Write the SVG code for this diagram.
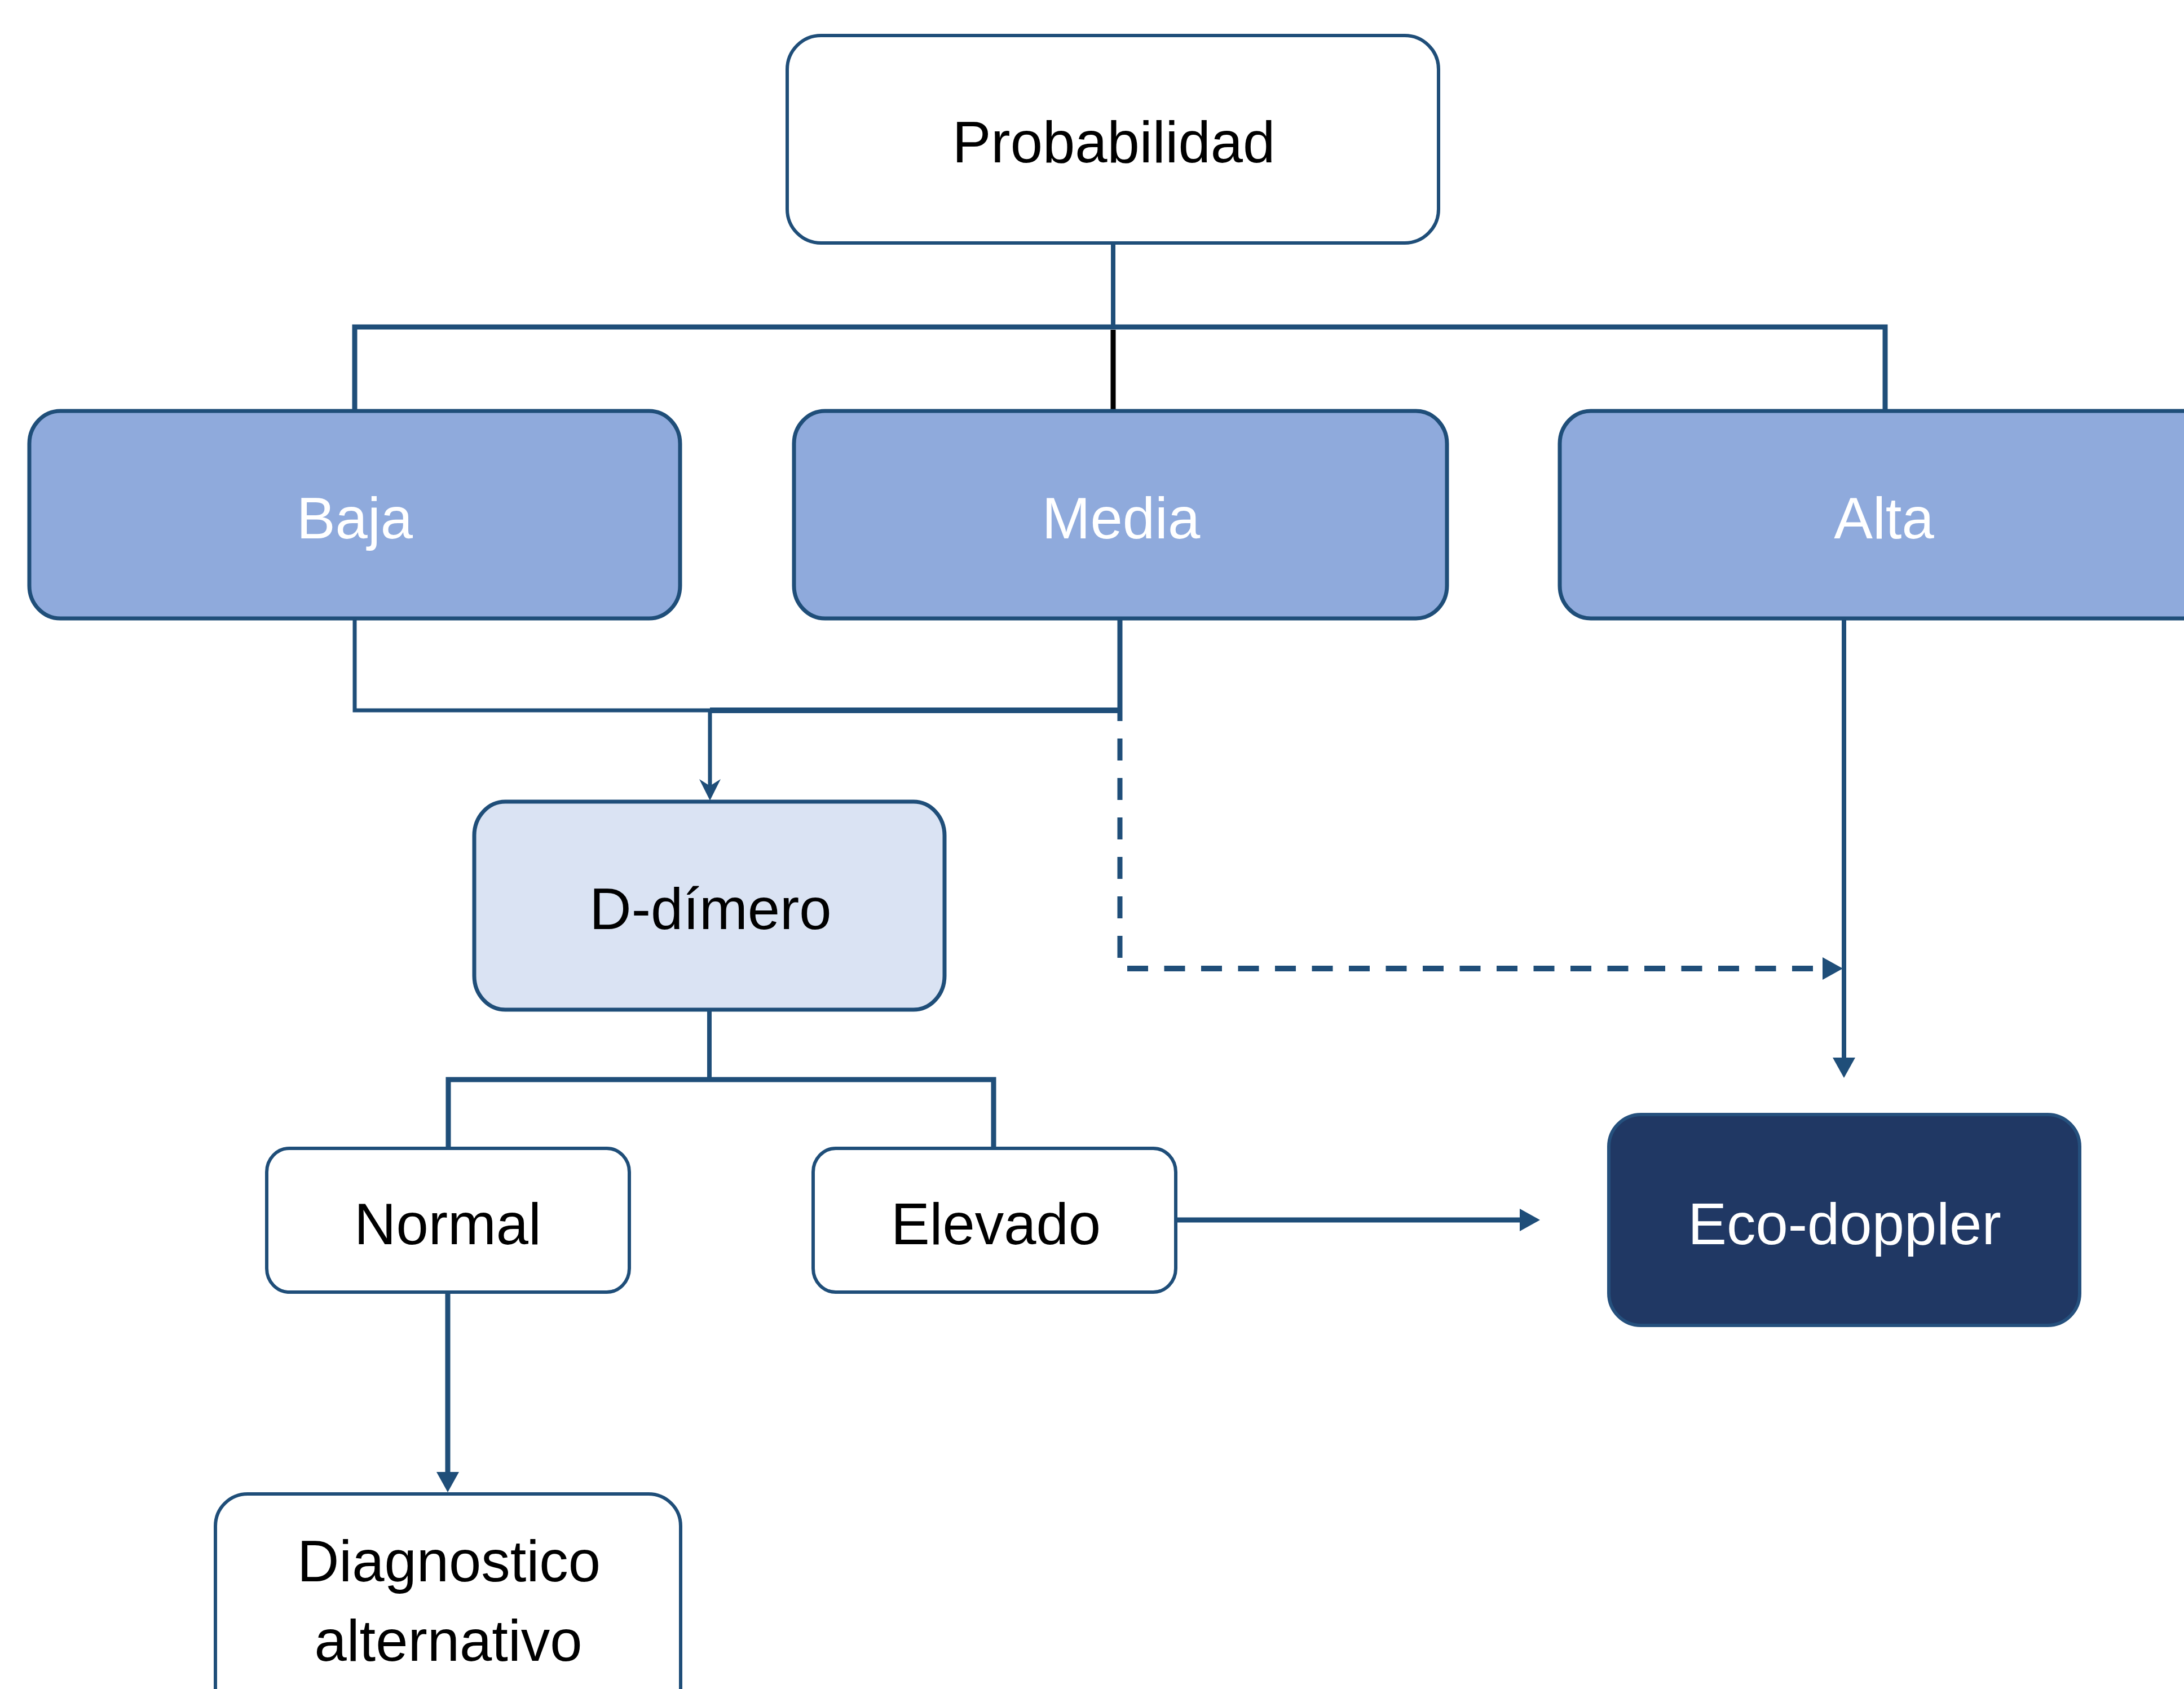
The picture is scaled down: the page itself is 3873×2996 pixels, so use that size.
<svg xmlns="http://www.w3.org/2000/svg" width="3873" height="2996" viewBox="0 0 3873 2996">
<style>
.box{stroke:#1F4E79;stroke-width:6}
.white{fill:#FFFFFF}
.mid{fill:#8FAADC;stroke-width:7}
.light{fill:#DAE3F3;stroke-width:7}
.dark{fill:#203864;stroke:#25507D}
.lbl{font-family:"Liberation Sans",Arial,sans-serif;font-size:103px;text-anchor:middle;fill:#000000}
.lw{fill:#FFFFFF}
.con{fill:none;stroke:#1F4E79;stroke-width:8}
</style>
<defs>
<marker id="tri" markerUnits="userSpaceOnUse" viewBox="0 0 36 40" markerWidth="36" markerHeight="40" refX="1" refY="20" orient="auto">
<path d="M0,0 L36,20 L0,40 Z" fill="#1F4E79"/>
</marker>
<marker id="stealth" markerUnits="userSpaceOnUse" viewBox="0 0 38 38" markerWidth="38" markerHeight="38" refX="12" refY="19" orient="auto">
<path d="M0,0 L38,19 L0,38 L12,19 Z" fill="#1F4E79"/>
</marker>
</defs>
<rect width="3873" height="2996" fill="#FFFFFF"/>
<g id="connectors">
<path class="con" d="M1974,433 V580"/>
<path class="con" style="stroke-width:9" d="M629,727 V580 H3343 V727"/>
<path class="con" style="stroke:#000000;stroke-width:9" d="M1974,585 V727"/>
<path class="con" style="stroke-width:7" d="M629,1099 V1260 H1259 V1394" marker-end="url(#stealth)"/>
<path class="con" style="stroke-width:9" d="M1986,1099 V1279"/>
<path class="con" style="stroke-width:10" d="M1990,1260 H1259"/>
<path class="con" style="stroke-width:9;stroke-dasharray:39 31" d="M1986,1310 V1701"/>
<path class="con" style="stroke-width:10;stroke-dasharray:37 28.5" d="M1999,1718 H3233" marker-end="url(#tri)"/>
<path class="con" d="M3270,1099 V1877" marker-end="url(#tri)"/>
<path class="con" d="M1258,1793 V1915"/>
<path class="con" style="stroke-width:9" d="M795,2035 V1915 H1762 V2035"/>
<path class="con" style="stroke-width:9" d="M794,2293 V2612" marker-end="url(#tri)"/>
<path class="con" style="stroke-width:9" d="M2086,2164 H2696" marker-end="url(#tri)"/>
</g>
<g id="probabilidad">
<rect class="box white" x="1396" y="63" width="1155" height="368" rx="60" ry="60"/>
<text class="lbl" x="1975" y="288">Probabilidad</text>
</g>
<g id="baja">
<rect class="box mid" x="52" y="729" width="1154" height="368" rx="55" ry="58"/>
<text class="lbl lw" x="629" y="955">Baja</text>
</g>
<g id="media">
<rect class="box mid" x="1408" y="729" width="1158" height="368" rx="55" ry="58"/>
<text class="lbl lw" x="1988" y="955">Media</text>
</g>
<g id="alta">
<rect class="box mid" x="2766" y="729" width="1160" height="368" rx="55" ry="58"/>
<text class="lbl lw" x="3341" y="955">Alta</text>
</g>
<g id="ddimero">
<rect class="box light" x="841" y="1422" width="834" height="369" rx="55" ry="60"/>
<text class="lbl" x="1260" y="1648">D-dímero</text>
</g>
<g id="normal">
<rect class="box white" x="473" y="2037" width="643" height="255" rx="40" ry="42"/>
<text class="lbl" x="794" y="2207">Normal</text>
</g>
<g id="elevado">
<rect class="box white" x="1442" y="2037" width="643" height="255" rx="40" ry="42"/>
<text class="lbl" x="1766" y="2207">Elevado</text>
</g>
<g id="ecodoppler">
<rect class="box dark" x="2853" y="1977" width="835" height="374" rx="57" ry="57"/>
<text class="lbl lw" x="3271" y="2207">Eco-doppler</text>
</g>
<g id="diagnostico">
<rect class="box white" x="382" y="2650" width="825" height="420" rx="57" ry="57"/>
<text class="lbl" x="796" y="2805">Diagnostico</text>
<text class="lbl" x="795" y="2946">alternativo</text>
</g>
</svg>
